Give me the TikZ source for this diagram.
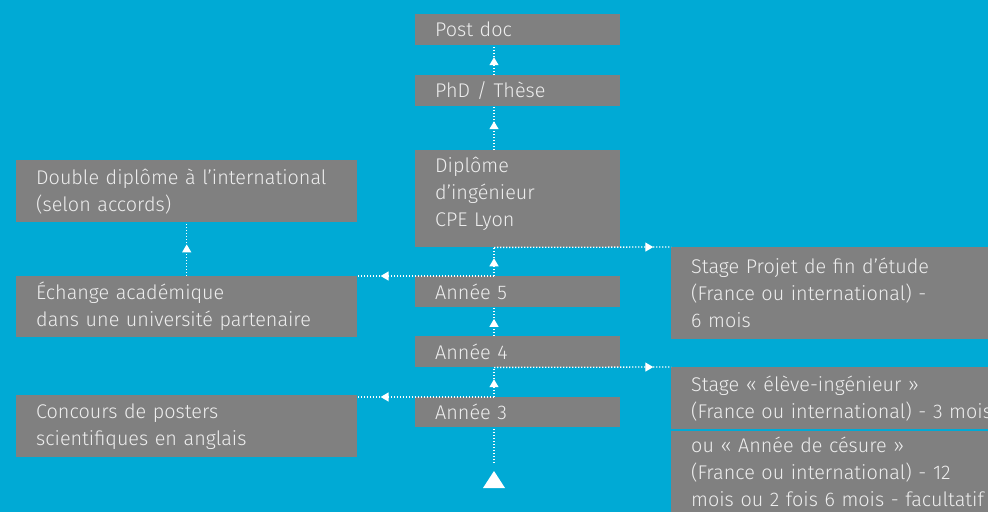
\documentclass[tikz,border=0pt]{standalone}
\usepackage{fontspec}
\setmainfont{Fira Sans}[UprightFont=* Light]
\usetikzlibrary{arrows.meta,decorations.markings}
\definecolor{bgc}{RGB}{0,170,213}
\definecolor{boxc}{RGB}{128,128,128}
\definecolor{txtc}{RGB}{238,238,238}
\begin{document}
\begin{tikzpicture}[x=1pt,y=-1pt,
  box/.style={fill=boxc, text=txtc, anchor=north west, inner xsep=20pt, inner ysep=0pt, align=left, font=\fontsize{19.8}{27}\selectfont},
  cbox/.style={box, minimum width=205pt, text width=165pt},
  lbox/.style={box, minimum width=341pt, text width=301pt},
  rbox/.style={box, minimum width=440pt, text width=400pt},
  flow/.style={draw=white, line width=1.3pt, dash pattern=on 1.4pt off 1.6pt},
  tip/.style={postaction={decorate}, decoration={markings, mark=at position #1 with {\arrow{Triangle[width=9pt,length=8pt]}}}}]
\useasboundingbox (0,0) rectangle (988,512);
\clip (0,0) rectangle (988,512);
\fill[bgc] (0,0) rectangle (988,512);
\coordinate (sp) at (494,0);
% centre column
\node[cbox, minimum height=31pt] (post) at (415,14) {Post doc};
\node[cbox, minimum height=31pt] (phd) at (415,75) {PhD / Thèse};
\node[cbox, minimum height=97pt] (dip) at (415,150) {Diplôme\\d’ingénieur\\CPE Lyon\\[-14pt]\mbox{}};
\node[cbox, minimum height=31pt] (a5) at (415,276) {Année 5};
\node[cbox, minimum height=31pt] (a4) at (415,336) {Année 4};
\node[cbox, minimum height=30pt] (a3) at (415,397) {Année 3};
% left column
\node[lbox, minimum height=62pt] (dd) at (16,160) {Double diplôme à l’international\\(selon accords)};
\node[lbox, minimum height=61pt] (ech) at (16,276) {Échange académique\\dans une université partenaire};
\node[lbox, minimum height=62pt] (conc) at (16,395) {Concours de posters\\scientifiques en anglais};
% right column
\node[rbox, minimum height=92pt] (sp1) at (671,247) {Stage Projet de fin d’étude\\(France ou international) -\\6 mois};
\node[rbox, minimum height=62pt] (se) at (671,367) {Stage « élève-ingénieur »\\(France ou international) - 3 mois};
\node[rbox, minimum height=81pt] (ces) at (671,431) {ou « Année de césure »\\(France ou international) - 12\\mois ou 2 fois 6 mois - facultatif};
% start marker
\fill[white] (483,488) -- (505,488) -- (494,471) -- cycle;
\coordinate (st) at (494,463);
% connectors
\draw[flow] (st) -- (a3.south -| sp);
\draw[flow, tip=0.6] (a3.north -| sp) -- (a4.south -| sp);
\draw[flow, tip=0.6] (a4.north -| sp) -- (a5.south -| sp);
\draw[flow, tip=0.62] (a5.north -| sp) -- (dip.south -| sp);
\draw[flow, tip=0.66] (dip.north -| sp) -- (phd.south -| sp);
\draw[flow, tip=0.6] (phd.north -| sp) -- (post.south -| sp);
\draw[flow, tip=0.83] (a5.north -| sp) -- (ech.north east |- a5.north);
\draw[flow, tip=0.83] (a3.north -| sp) -- (conc.north east |- a3.north);
\draw[flow, tip=0.9] (dip.south -| sp) -- (sp1.north west);
\draw[flow, tip=0.9] (a4.south -| sp) -- (se.north west);
\draw[flow, tip=0.59] (ech.north) -- (dd.south);
\end{tikzpicture}
\end{document}
